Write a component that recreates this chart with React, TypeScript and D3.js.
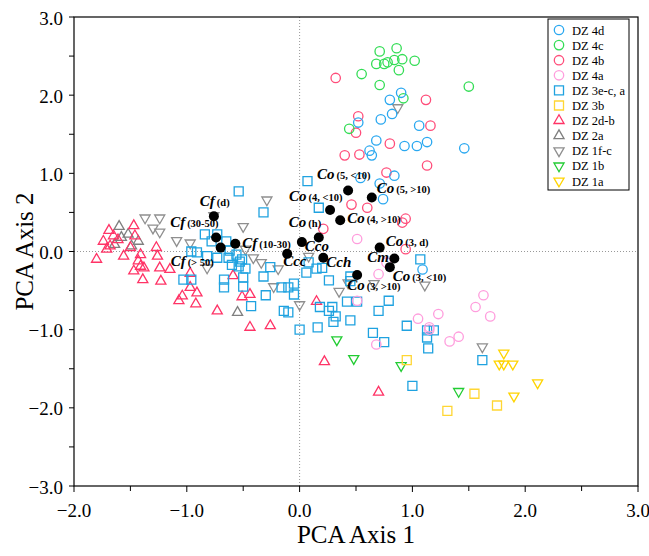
import * as d3 from 'd3';
import React from 'react';

// PCA scores: [axis1, axis2]
type Pt = [number, number];

const dz4d: Pt[] = [
  [0.9, 2.03], [0.8, 1.94], [0.82, 1.76], [0.52, 1.65], [0.72, 1.69], [1.06, 1.61],
  [0.68, 1.42], [0.93, 1.35], [1.04, 1.35], [1.13, 1.4], [1.46, 1.32], [0.62, 1.29],
  [0.64, 1.23], [0.84, 0.97], [0.54, 0.94], [0.74, 0.67], [0.71, 0.87], [1.09, -0.23],
];
const dz4c: Pt[] = [
  [0.71, 2.56], [0.86, 2.6], [0.68, 2.4], [0.75, 2.4], [0.78, 2.42], [0.84, 2.45],
  [0.91, 2.46], [1.02, 2.44], [0.88, 2.32], [0.55, 2.27], [0.71, 2.13], [1.5, 2.11],
  [0.92, 1.96], [0.44, 1.57],
];
const dz4b: Pt[] = [
  [0.32, 2.22], [1.12, 1.94], [0.52, 1.73], [0.5, 1.52], [1.16, 1.61], [0.8, 1.38],
  [0.4, 1.23], [0.53, 1.24], [1.13, 1.1], [0.77, 1.01], [0.46, 0.6], [0.6, 0.56],
  [0.94, 0.42], [0.91, 0.37], [0.94, 0.03], [0.21, 0.29],
];
const dz4a: Pt[] = [
  [0.51, 0.16], [0.7, -0.29], [0.77, -0.14], [0.51, -0.63], [1.05, -0.86], [1.23, -0.8],
  [1.15, -0.97], [1.15, -1.0], [1.41, -1.09], [1.33, -1.15], [0.68, -1.19], [1.63, -0.56],
  [1.56, -0.71], [1.69, -0.83],
];
const dz3eca: Pt[] = [
  [-0.54, 0.77], [-0.32, 0.5], [0.07, 0.9], [0.17, 0.56], [-0.84, 0.22], [-0.78, 0.13],
  [-0.73, 0.22], [-0.65, 0.13], [-0.96, 0.0], [-0.91, -0.01], [-0.82, -0.06], [-0.73, -0.08],
  [-0.62, 0.01], [-0.56, -0.04], [-0.51, -0.1], [-0.6, -0.17], [-0.54, -0.19], [-0.48, -0.22],
  [-1.03, -0.36], [-0.96, -0.36], [-0.67, -0.36], [-0.67, -0.46], [-0.5, -0.33], [-0.5, -0.45],
  [-0.32, -0.32], [-0.26, -0.2], [-0.16, -0.46], [-0.1, -0.46], [-0.05, -0.41], [-0.05, -0.55],
  [-0.3, -0.56], [-0.43, -0.7], [-0.14, -0.76], [-0.1, -0.78], [0.0, -1.0], [0.06, -0.27],
  [0.08, -0.14], [0.15, -0.22], [0.2, -0.21], [0.26, -0.37], [0.45, -0.32], [0.45, -0.38],
  [0.42, -0.64], [0.51, -0.64], [0.79, -0.63], [0.7, -0.76], [0.18, -0.71], [0.29, -0.71],
  [0.26, -0.76], [0.32, -0.83], [0.3, -0.9], [0.16, -0.97], [0.45, -0.88], [0.65, -1.04],
  [0.75, -1.16], [0.95, -0.95], [1.07, -0.1], [1.13, -1.01], [1.19, -1.01], [1.13, -1.1],
  [1.14, -1.24], [1.0, -1.72], [1.62, -1.39], [-0.63, -0.08], [-0.53, -0.13],
];
const dz3b: Pt[] = [[0.95, -1.39], [1.31, -2.04], [1.55, -1.82], [1.75, -1.97]];
const dz2db: Pt[] = [
  [-1.69, 0.27], [-1.47, 0.33], [-1.74, 0.13], [-1.65, 0.2], [-1.61, 0.15], [-1.71, 0.03],
  [-1.68, 0.07], [-1.46, 0.2], [-1.5, 0.05], [-1.56, -0.06], [-1.8, -0.1], [-1.41, -0.04],
  [-1.43, -0.12], [-1.38, -0.21], [-1.41, -0.19], [-1.47, -0.25], [-1.39, -0.36], [-1.27, 0.05],
  [-1.26, -0.06], [-1.24, -0.21], [-1.15, -0.23], [-1.23, -0.38], [-0.97, -0.28], [-0.97, -0.46],
  [-0.91, -0.53], [-1.04, -0.57], [-1.07, -0.63], [-0.92, -0.67], [-0.73, -0.76], [-0.59, -0.31],
  [-0.51, -0.58], [-0.44, -0.55], [-0.44, -0.97], [-0.26, -0.95], [0.15, -0.64], [0.22, -1.41],
  [0.7, -1.8],
];
const dz2a: Pt[] = [
  [-1.6, 0.32], [-1.52, 0.22], [-1.49, 0.07], [-1.43, 0.13], [-1.64, 0.09], [-1.58, 0.18],
  [-0.55, -0.78],
];
const dz1fc: Pt[] = [
  [-1.37, 0.43], [-1.24, 0.43], [-1.3, 0.3], [-1.24, 0.25], [-1.09, 0.14], [-0.97, 0.11],
  [-0.5, 0.32], [-0.48, 0.03], [-0.41, -0.08], [-0.34, -0.14], [-0.19, -0.22], [-0.23, -0.45],
  [-0.29, 0.66], [-0.76, 0.46], [-0.82, -0.21], [0.0, -0.68], [0.08, -0.06], [0.35, -0.51],
  [0.43, -0.4], [0.66, -0.41], [1.11, -0.43], [0.87, 1.84], [1.62, -1.22],
];
const dz1b: Pt[] = [[0.33, -1.13], [0.48, -1.37], [0.9, -1.46], [1.41, -1.79]];
const dz1a: Pt[] = [
  [1.81, -1.3], [1.77, -1.44], [1.81, -1.44], [1.89, -1.44], [2.11, -1.68], [1.9, -1.85],
];

// reference taxa, drawn as black dots
const refNames = ['Cf', 'Cf', 'Cf', 'Cf', 'Co', 'Cco', 'Ccc', 'Cch', 'Co', 'Co', 'Co', 'Co', 'Co', 'Cm', 'Co', 'Co'];
const refSubs = ['(d)', '(30-50)', '(> 50)', '(10-30)', '(h)', '', '', '', '(4, <10)', '(4, >10)', '(5, <10)', '(5, >10)', '(3, d)', '', '(3, <10)', '(3, >10)'];
const refPoints: Pt[] = [
  [-0.76, 0.45], [-0.74, 0.18], [-0.7, 0.05], [-0.57, 0.1], [0.02, 0.12], [0.17, 0.18],
  [-0.11, -0.03], [0.21, -0.08], [0.27, 0.53], [0.36, 0.4], [0.43, 0.78], [0.64, 0.69],
  [0.71, 0.05], [0.84, -0.09], [0.8, -0.2], [0.51, -0.3],
];
// label placement (px offset from the dot to the text start / baseline)
const labelOffsets: [number, number][] = [
  [-14, -10], [-46, -10], [-50, 18], [7, 4], [-13, -15], [-14, 14],
  [-4, 12], [3, 9], [-41, -9], [7, 3], [-31, -12], [5, -5],
  [6, -2], [-27, 3], [3, 14], [-10, 15],
];

const groupNames = ['DZ 4d', 'DZ 4c', 'DZ 4b', 'DZ 4a', 'DZ 3e-c, a', 'DZ 3b', 'DZ 2d-b', 'DZ 2a', 'DZ 1f-c', 'DZ 1b', 'DZ 1a'];
const groupData = [dz4d, dz4c, dz4b, dz4a, dz3eca, dz3b, dz2db, dz2a, dz1fc, dz1b, dz1a];

type Shape = 'circle' | 'square' | 'up' | 'down';
const groupShapes: Shape[] = ['circle', 'circle', 'circle', 'circle', 'square', 'square', 'up', 'up', 'down', 'down', 'down'];
const groupColors = ['#2aa8f0', '#33dd55', '#ff4d7a', '#ff9ddd', '#1fa2e0', '#ffd633', '#ff3366', '#7f7f7f', '#8f8f8f', '#22cc33', '#ffd400'];

const W = 649;
const H = 556;
const FONT = '"Liberation Serif", "Times New Roman", serif';

const x = d3.scaleLinear().domain([-2, 3]).range([74, 638]);
const y = d3.scaleLinear().domain([-3, 3]).range([486, 17]);

const symbolPath = (shape: Shape) => {
  if (shape === 'circle') return d3.symbol().type(d3.symbolCircle).size(Math.PI * 4.7 * 4.7)()!;
  if (shape === 'square') return d3.symbol().type(d3.symbolSquare).size(81)()!;
  return d3.symbol().type(d3.symbolTriangle).size(44)()!;
};

const Marker: React.FC<{ shape: Shape; color: string; cx: number; cy: number }> = ({ shape, color, cx, cy }) => (
  <path
    d={symbolPath(shape)}
    transform={`translate(${cx},${cy})${shape === 'down' ? ' rotate(180)' : ''}`}
    fill="none"
    stroke={color}
    strokeWidth={1.3}
  />
);

const App: React.FC = () => {
  const [x0, x1] = x.range();
  const [y0, y1] = y.range();
  const fmt = d3.format('.1f');
  const xMinor = d3.range(-2, 3.01, 0.5);
  const yMinor = d3.range(-3, 3.01, 0.5);
  const xMajor = x.ticks(5);
  const yMajor = y.ticks(6);

  return (
    <svg width={W} height={H} style={{ position: 'absolute', left: 0, top: 0, background: '#fff' }} fontFamily={FONT}>
      {/* zero lines */}
      <line x1={x(0)} x2={x(0)} y1={y1} y2={y0} stroke="#999" strokeDasharray="1,2" />
      <line x1={x0} x2={x1} y1={y(0)} y2={y(0)} stroke="#999" strokeDasharray="1,2" />

      {/* frame */}
      <rect x={x0} y={y1} width={x1 - x0} height={y0 - y1} fill="none" stroke="#000" strokeWidth={1.2} />

      {/* ticks */}
      {xMinor.map((t) => (
        <line key={`xt${t}`} x1={x(t)} x2={x(t)} y1={y0} y2={y0 + (Number.isInteger(t) ? 6 : 5)} stroke="#000" />
      ))}
      {yMinor.map((t) => (
        <line key={`yt${t}`} x1={x0 - 5} x2={x0} y1={y(t)} y2={y(t)} stroke="#000" />
      ))}
      {xMajor.map((t) => (
        <text key={`xl${t}`} x={x(t)} y={517} textAnchor="middle" fontSize={19}>
          {fmt(t)}
        </text>
      ))}
      {yMajor.map((t) => (
        <text key={`yl${t}`} x={x0 - 11} y={y(t) + 7.5} textAnchor="end" fontSize={19}>
          {fmt(t)}
        </text>
      ))}

      {/* axis titles */}
      <text x={(x0 + x1) / 2} y={543} textAnchor="middle" fontSize={25}>
        PCA Axis 1
      </text>
      <text transform={`translate(33,${y(0)}) rotate(-90)`} textAnchor="middle" fontSize={25}>
        PCA Axis 2
      </text>

      {/* groups */}
      {groupData
        .map((pts, gi) => ({ pts, gi }))
        .reverse()
        .map(({ pts, gi }) => (
          <g key={groupNames[gi]}>
            {pts.map((p, i) => (
              <Marker key={i} shape={groupShapes[gi]} color={groupColors[gi]} cx={x(p[0])} cy={y(p[1])} />
            ))}
          </g>
        ))}

      {/* reference taxa */}
      {refPoints.map((p, i) => (
        <circle key={`r${i}`} cx={x(p[0])} cy={y(p[1])} r={5} fill="#000" />
      ))}
      {refPoints.map((p, i) => (
        <text key={`rl${i}`} x={x(p[0]) + labelOffsets[i][0]} y={y(p[1]) + labelOffsets[i][1]} fill="#000">
          <tspan fontSize={15} fontWeight="bold" fontStyle="italic">
            {refNames[i]}
          </tspan>
          {refSubs[i] && (
            <tspan fontSize={10.5} fontWeight="bold" dx={2}>
              {refSubs[i]}
            </tspan>
          )}
        </text>
      ))}

      {/* legend */}
      <g>
        <rect x={548} y={19} width={81} height={171} fill="#fff" stroke="#000" strokeWidth={1} />
        {groupNames.map((name, i) => (
          <g key={name} transform={`translate(0,${30 + i * 15.1})`}>
            <Marker shape={groupShapes[i]} color={groupColors[i]} cx={559} cy={0} />
            <text x={572} y={4.5} fontSize={12.5}>
              {name}
            </text>
          </g>
        ))}
      </g>
    </svg>
  );
};

export default App;
